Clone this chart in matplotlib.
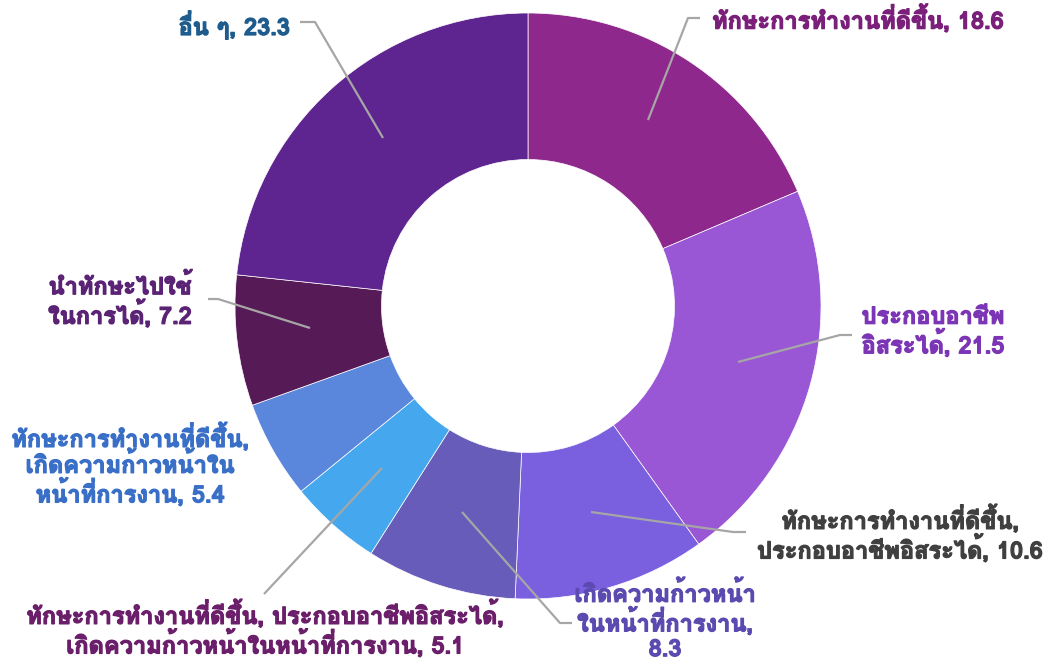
import matplotlib
matplotlib.use("Agg")
import matplotlib.pyplot as plt
from matplotlib import font_manager
import matplotlib.patheffects as pe

# ---- data ----
categories = [
    "ทักษะการทำงานที่ดีขึ้น",
    "ประกอบอาชีพ\nอิสระได้",
    "ทักษะการทำงานที่ดีขึ้น,\nประกอบอาชีพอิสระได้",
    "เกิดความก้าวหน้า\nในหน้าที่การงาน,\n",
    "ทักษะการทำงานที่ดีขึ้น, ประกอบอาชีพอิสระได้,\nเกิดความก้าวหน้าในหน้าที่การงาน",
    "ทักษะการทำงานที่ดีขึ้น,\nเกิดความก้าวหน้าใน\nหน้าที่การงาน",
    "นำทักษะไปใช้\nในการได้",
    "อื่น ๆ",
]
values = [18.6, 21.5, 10.6, 8.3, 5.1, 5.4, 7.2, 23.3]
colors = ["#8E288C", "#9A57D5", "#7A5FDF", "#675CB9", "#45A8EE", "#5A86DC", "#561A56", "#5E248F"]
label_colors = ["#7A1F7A", "#7B35B5", "#404040", "#5B4BB0", "#6B1F6B", "#3A6FC8", "#5A2375", "#1F5C8E"]

plt.rcParams["font.family"] = ["Loma", "DejaVu Sans"]
bold_path = None
for fe in font_manager.fontManager.ttflist:
    if fe.fname.endswith("Loma-Bold.otf"):
        bold_path = fe.fname
        break
if bold_path:
    fprop = font_manager.FontProperties(fname=bold_path, size=17)
else:
    fprop = font_manager.FontProperties(family=["Loma", "DejaVu Sans"], weight="bold", size=17)

W, H = 1048, 661
fig = plt.figure(figsize=(W / 100, H / 100), dpi=100)
ax = fig.add_axes([0, 0, 1, 1])

cx, cy, R = 528, H - 306, 293
ax.pie(values, colors=colors, startangle=90, counterclock=False,
       radius=R, center=(cx, cy), frame=True,
       wedgeprops=dict(width=R * 0.5, edgecolor="white", linewidth=0.5))
ax.set_xlim(0, W)
ax.set_ylim(0, H)
ax.set_aspect("equal")
ax.axis("off")

labels = [
    dict(pos=(712, 20), ha="left", path=[(648, 120), (688, 18), (700, 18)]),
    dict(pos=(933, 332), ha="center", path=[(738, 362), (840, 335), (852, 335)]),
    dict(pos=(900, 535), ha="center", path=[(591, 512), (733, 532), (746, 532)]),
    dict(pos=(665, 622), ha="center", path=[(462, 512), (560, 623), (572, 623)]),
    dict(pos=(265, 630), ha="center", path=[(382, 468), (264, 594)]),
    dict(pos=(130, 466), ha="center", path=None),
    dict(pos=(120, 302), ha="center", path=[(310, 328), (218, 299), (208, 299)]),
    dict(pos=(290, 26), ha="right", path=[(383, 138), (315, 22), (300, 22)]),
]
for i, lb in enumerate(labels):
    if lb["path"]:
        xs = [p[0] for p in lb["path"]]
        ys = [H - p[1] for p in lb["path"]]
        ax.plot(xs, ys, color="#A6A6A6", lw=1.6, solid_capstyle="butt")
    sep = "" if categories[i].endswith("\n") else ", "
    text = f"{categories[i]}{sep}{values[i]}"
    x, y = lb["pos"][0], H - lb["pos"][1]
    ax.text(x, y, text, ha=lb["ha"], va="center", multialignment="center",
            fontproperties=fprop, color=label_colors[i], linespacing=1.1,
            path_effects=[pe.withStroke(linewidth=0.9, foreground=label_colors[i])])

fig.savefig("out.png", dpi=100)
